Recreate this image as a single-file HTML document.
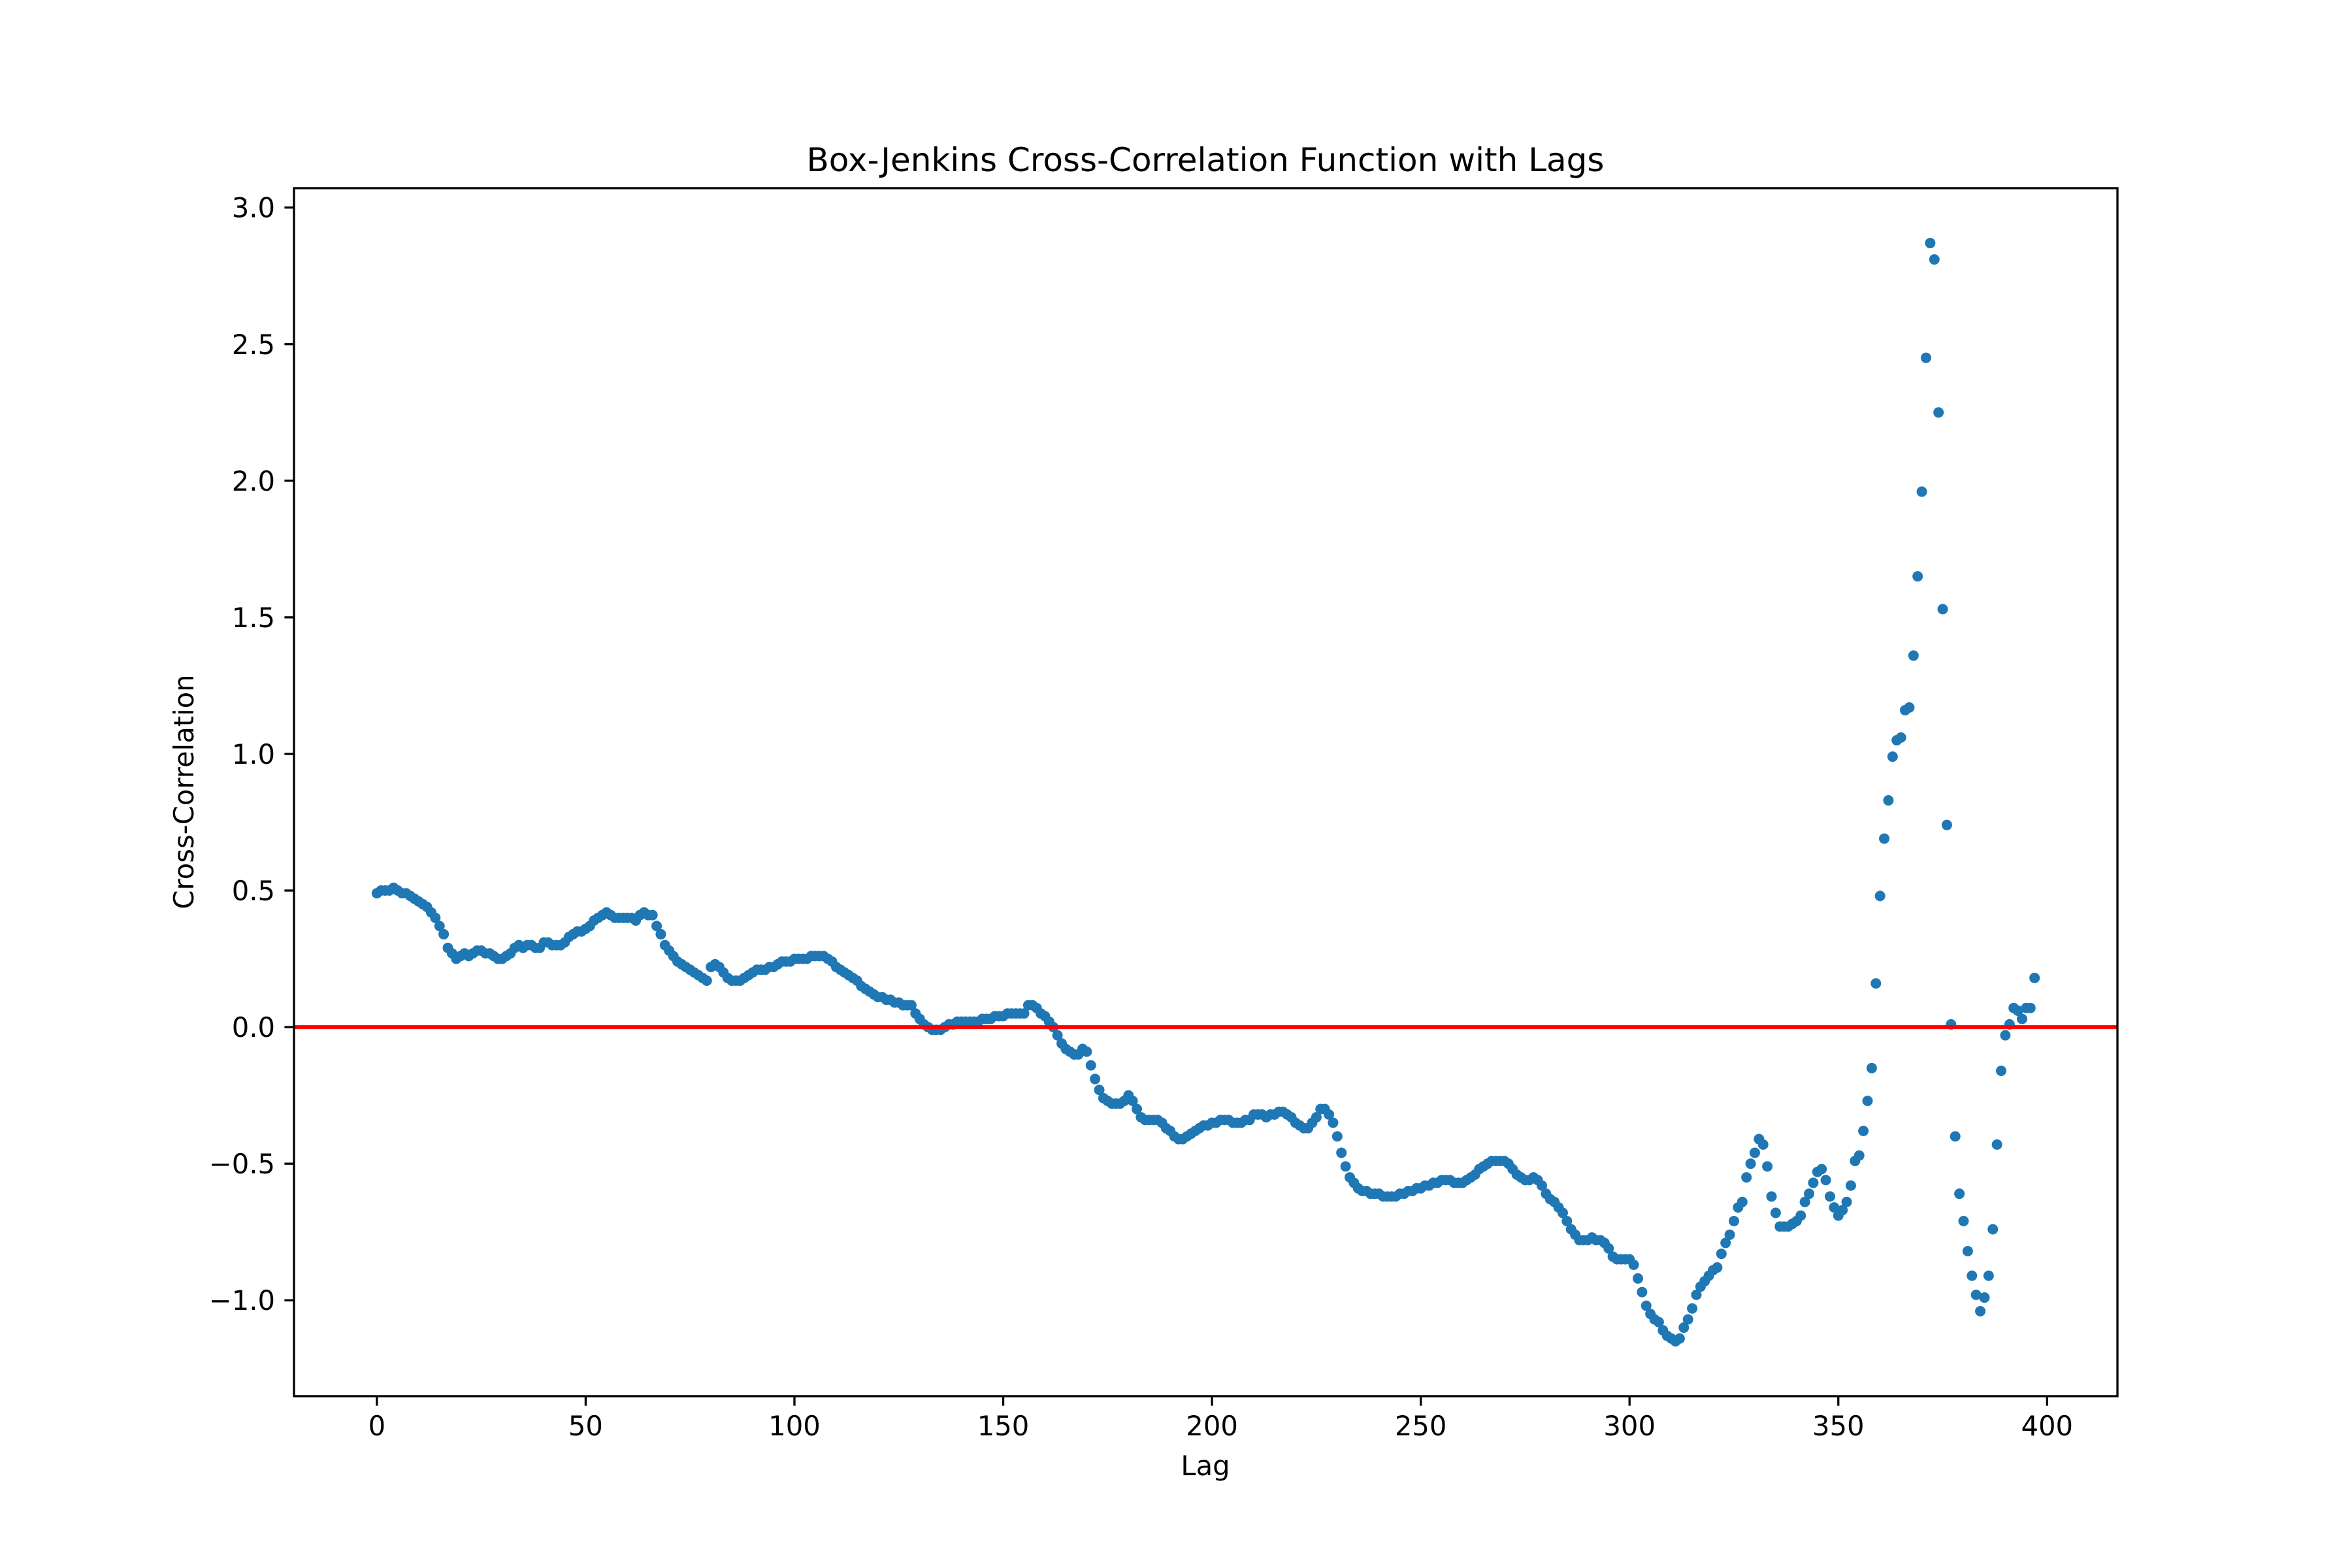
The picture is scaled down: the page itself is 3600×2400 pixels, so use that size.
<!DOCTYPE html>
<html><head><meta charset="utf-8"><style>
html,body{margin:0;padding:0;background:#fff;}
svg{display:block;font-family:"DejaVu Sans","Liberation Sans",sans-serif;}
</style></head><body>
<svg id="chart" width="3600" height="2400" xmlns="http://www.w3.org/2000/svg">
<rect width="3600" height="2400" fill="#fff"/>
<text x="1845" y="262" font-size="50" text-anchor="middle">Box-Jenkins Cross-Correlation Function with Lags</text>
<g id="grid"></g>
<g id="marks"></g>
<g id="axes"></g>
<text x="1845" y="2258" font-size="41.7" text-anchor="middle">Lag</text>
<text x="0" y="0" font-size="41.7" text-anchor="middle" transform="translate(296,1212) rotate(-90)">Cross-Correlation</text>
</svg>
<script>
const ccfValues = [
0.49,0.50,0.50,0.50,0.51,0.50,0.49,0.49,0.48,0.47,0.46,
0.45,0.44,0.42,0.40,0.37,0.34,0.29,0.27,0.25,0.26,
0.27,0.26,0.27,0.28,0.28,0.27,0.27,0.26,0.25,0.25,
0.26,0.27,0.29,0.30,0.29,0.30,0.30,0.29,0.29,0.31,
0.31,0.30,0.30,0.30,0.31,0.33,0.34,0.35,0.35,0.36,
0.37,0.39,0.40,0.41,0.42,0.41,0.40,0.40,0.40,0.40,
0.40,0.39,0.41,0.42,0.41,0.41,0.37,0.34,0.30,0.28,
0.26,0.24,0.23,0.22,0.21,0.20,0.19,0.18,0.17,0.22,
0.23,0.22,0.20,0.18,0.17,0.17,0.17,0.18,0.19,0.20,
0.21,0.21,0.21,0.22,0.22,0.23,0.24,0.24,0.24,0.25,
0.25,0.25,0.25,0.26,0.26,0.26,0.26,0.25,0.24,0.22,
0.21,0.20,0.19,0.18,0.17,0.15,0.14,0.13,0.12,0.11,
0.11,0.10,0.10,0.09,0.09,0.08,0.08,0.08,0.05,0.03,
0.01,0.00,-0.01,-0.01,-0.01,0.00,0.01,0.01,0.02,0.02,
0.02,0.02,0.02,0.02,0.03,0.03,0.03,0.04,0.04,0.04,
0.05,0.05,0.05,0.05,0.05,0.08,0.08,0.07,0.05,0.04,
0.02,0.00,-0.03,-0.06,-0.08,-0.09,-0.10,-0.10,-0.08,-0.09,
-0.14,-0.19,-0.23,-0.26,-0.27,-0.28,-0.28,-0.28,-0.27,-0.25,
-0.27,-0.30,-0.33,-0.34,-0.34,-0.34,-0.34,-0.35,-0.37,-0.38,
-0.40,-0.41,-0.41,-0.40,-0.39,-0.38,-0.37,-0.36,-0.36,-0.35,
-0.35,-0.34,-0.34,-0.34,-0.35,-0.35,-0.35,-0.34,-0.34,-0.32,
-0.32,-0.32,-0.33,-0.32,-0.32,-0.31,-0.31,-0.32,-0.33,-0.35,
-0.36,-0.37,-0.37,-0.35,-0.33,-0.30,-0.30,-0.32,-0.35,-0.40,
-0.46,-0.51,-0.55,-0.57,-0.59,-0.60,-0.60,-0.61,-0.61,-0.61,
-0.62,-0.62,-0.62,-0.62,-0.61,-0.61,-0.60,-0.60,-0.59,-0.59,
-0.58,-0.58,-0.57,-0.57,-0.56,-0.56,-0.56,-0.57,-0.57,-0.57,
-0.56,-0.55,-0.54,-0.52,-0.51,-0.50,-0.49,-0.49,-0.49,-0.49,
-0.50,-0.52,-0.54,-0.55,-0.56,-0.56,-0.55,-0.56,-0.58,-0.61,
-0.63,-0.64,-0.66,-0.68,-0.71,-0.74,-0.76,-0.78,-0.78,-0.78,
-0.77,-0.78,-0.78,-0.79,-0.81,-0.84,-0.85,-0.85,-0.85,-0.85,
-0.87,-0.92,-0.97,-1.02,-1.05,-1.07,-1.08,-1.11,-1.13,-1.14,
-1.15,-1.14,-1.10,-1.07,-1.03,-0.98,-0.95,-0.93,-0.91,-0.89,
-0.88,-0.83,-0.79,-0.76,-0.71,-0.66,-0.64,-0.55,-0.50,-0.46,
-0.41,-0.43,-0.51,-0.62,-0.68,-0.73,-0.73,-0.73,-0.72,-0.71,
-0.69,-0.64,-0.61,-0.57,-0.53,-0.52,-0.56,-0.62,
-0.66,-0.69,-0.67,-0.64,-0.58,-0.49,-0.47,-0.38,-0.27,-0.15,
0.16,0.48,0.69,0.83,0.99,1.05,1.06,1.16,1.17,1.36,
1.65,1.96,2.45,2.87,2.81,2.25,1.53,0.74,0.01,-0.40,
-0.61,-0.71,-0.82,-0.91,-0.98,-1.04,-0.99,-0.91,-0.74,-0.43,
-0.16,-0.03,0.01,0.07,0.06,0.03,0.07,0.07,0.18
];
const xTickValues = [0,50,100,150,200,250,300,350,400];
const yTickValues = [-1.0,-0.5,0.0,0.5,1.0,1.5,2.0,2.5,3.0];
const yTickLabels = ["\u22121.0","\u22120.5","0.0","0.5","1.0","1.5","2.0","2.5","3.0"];
const refLineValue = [0];

const NS = "http://www.w3.org/2000/svg";
const L = 450, R = 3241, T = 288, B = 2137;
const n = ccfValues.length;
const xmin = -0.05 * (n - 1), xmax = (n - 1) * 1.05;
const vmin = Math.min(...ccfValues), vmax = Math.max(...ccfValues);
const pad = (vmax - vmin) * 0.05;
const ymin = vmin - pad, ymax = vmax + pad;
function xs(v){ return L + (v - xmin) / (xmax - xmin) * (R - L); }
function ys(v){ return B - (v - ymin) / (ymax - ymin) * (B - T); }
function mk(tag, attrs, parent){
  const e = document.createElementNS(NS, tag);
  for (const k in attrs) e.setAttribute(k, attrs[k]);
  parent.appendChild(e);
  return e;
}
const marks = document.getElementById('marks');
const axes = document.getElementById('axes');
ccfValues.forEach((v, i) => {
  const c = mk('circle', {cx: xs(i), cy: ys(v), r: 8, fill: '#1f77b4'}, marks);
  
  
});
refLineValue.forEach(v => {
  const ln = mk('line', {x1: L, x2: R, y1: ys(v), y2: ys(v), stroke: '#ff0000', 'stroke-width': 6}, marks);
  
  
});
const frame = mk('rect', {x: L, y: T, width: R - L, height: B - T, fill: 'none', stroke: '#000', 'stroke-width': 3.3}, axes);


xTickValues.forEach(v => {
  const x = xs(v);
  const t = mk('line', {x1: x, x2: x, y1: B, y2: B + 14.6, stroke: '#000', 'stroke-width': 3.3}, axes);
  
  
  const lb = mk('text', {x: x, y: B + 60, 'font-size': 41.7, 'text-anchor': 'middle'}, axes);
  lb.textContent = String(v);
  
  
});
yTickValues.forEach((v, i) => {
  const y = ys(v);
  const t = mk('line', {x1: L - 14.6, x2: L, y1: y, y2: y, stroke: '#000', 'stroke-width': 3.3}, axes);
  
  
  const lb = mk('text', {x: L - 29, y: y + 15, 'font-size': 41.7, 'text-anchor': 'end'}, axes);
  lb.textContent = yTickLabels[i];
  
  
});
</script>
</body></html>
